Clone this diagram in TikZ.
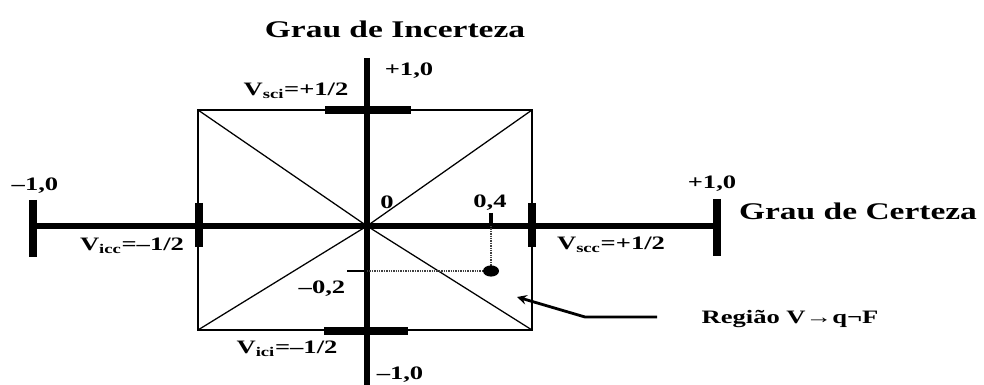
\documentclass[tikz,border=0pt]{standalone}
\usepackage{fontspec}
\setmainfont{Liberation Serif}
\newfontfamily\largo[FakeStretch=1.4, Ligatures=TeX]{Liberation Serif}
\begin{document}
\begin{tikzpicture}[x=0.025cm, y=-0.025cm, >=stealth,
	eixo/.style={line width=4.5pt},
	traco/.style={line width=5.5pt},
	fino/.style={line width=0.9pt},
	guia/.style={line width=0.8pt, black!75, dash pattern=on 1pt off 0.7pt},
	rotulo/.style={font=\largo\bfseries\fontsize{13.5}{15}\selectfont, inner sep=0pt},
	titulo/.style={font=\largo\bfseries\fontsize{17}{20}\selectfont, inner sep=0pt}]
	\useasboundingbox (0,0) rectangle (984,385);

	% Retângulo e diagonais
	\coordinate (O) at (367,226);
	\draw[fino] (198,110) rectangle (532,330);
	\draw[fino] (198,110) -- (O) -- (532,330);
	\draw[fino] (198,330) -- (O) -- (532,110);

	% Eixos
	\draw[eixo] (33,226) -- (717,226);
	\draw[eixo] (367,58) -- (367,385);

	% Marcas dos extremos e dos valores de controle
	\draw[line width=6pt] (33,200) -- (33,257);
	\draw[line width=6pt] (717,199) -- (717,256);
	\draw[traco] (199,203) -- (199,247);
	\draw[traco] (532,203) -- (532,247);
	\draw[traco] (325,110) -- (411,110);
	\draw[traco] (324,331) -- (408,331);

	% Ponto (0,4 ; -0,2)
	\coordinate (P) at (491,271);
	\coordinate (P04) at (491,226);
	\coordinate (P02) at (367,271);
	\draw[line width=2.5pt] (491,213) -- (P04);
	\draw[line width=1.6pt] (347,271) -- (P02);
	\draw[guia] (P04) -- (P);
	\draw[guia] (P02) -- (P);
	\fill (P) ellipse [x radius=0.2cm, y radius=0.14cm];

	% Seta para a região
	\coordinate (sA) at (657,317);
	\coordinate (sB) at (585,317);
	\coordinate (sC) at (517,297);
	\draw[->, line width=2pt] (sA) -- (sB) -- (sC);

	% Títulos dos eixos
	\node[titulo] (tinc) at (395,29) {Grau de Incerteza};
	\node[titulo] (tcer) at (858,211) {Grau de Certeza};

	% Valores nos eixos
	\node[rotulo] (cima) at (409,71) {+1,0};
	\node[rotulo] (baixo) at (400,375) {–1,0};
	\node[rotulo] (esq) at (35,186) {–1,0};
	\node[rotulo] (dir) at (712,184) {+1,0};
	\node[rotulo] (zero) at (387,202) {0};
	\node[rotulo] (v04) at (490,203) {0,4};
	\node[rotulo] (v02) at (322,289) {–0,2};

	% Valores de controle
	\node[rotulo] (vsci) at (296,91) {V\textsubscript{sci}=+1/2};
	\node[rotulo] (vici) at (287,349) {V\textsubscript{ici}=–1/2};
	\node[rotulo] (vicc) at (132,246) {V\textsubscript{icc}=–1/2};
	\node[rotulo] (vscc) at (611,245) {V\textsubscript{scc}=+1/2};

	% Região indicada
	\node[rotulo] (regiao) at (790,319) {Região V→q¬F};
\end{tikzpicture}
\end{document}
